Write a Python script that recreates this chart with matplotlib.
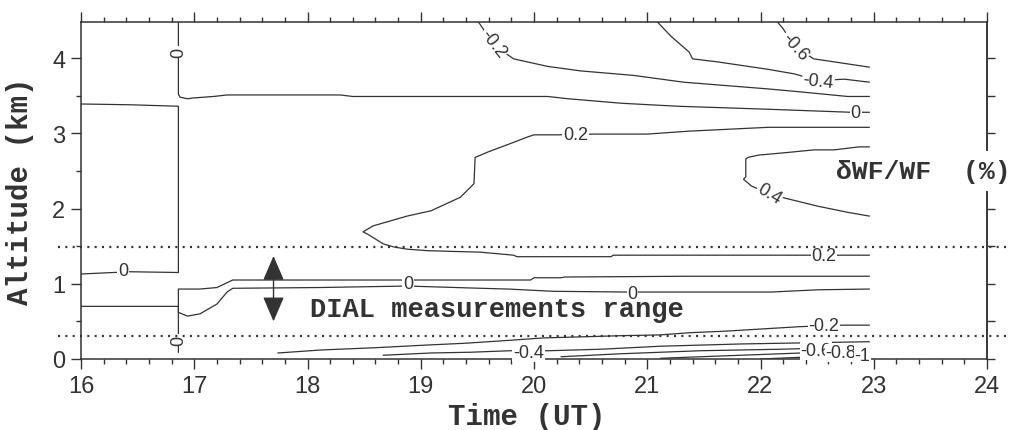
import numpy as np
import matplotlib.pyplot as plt
from matplotlib.ticker import MultipleLocator

# contour lines of dWF/WF (%): time (UT) and altitude (km)
zero_top_t = [16.86, 16.86, 16.875, 16.94, 16.99, 17.17, 17.29, 18.29, 18.40, 20.12, 20.30, 20.77, 21.27, 22.07, 22.80, 22.96]
zero_top_z = [4.48, 3.52, 3.48, 3.46, 3.47, 3.49, 3.51, 3.51, 3.49, 3.49, 3.46, 3.40, 3.36, 3.32, 3.28, 3.28]

zero_left_t = [16.0, 16.43, 16.86, 16.86, 16.43, 16.0]
zero_left_z = [3.39, 3.38, 3.36, 1.15, 1.16, 1.13]

zero_up_t = [16.86, 16.86, 17.05, 17.20, 17.34, 18.29, 19.53, 19.97, 20.00, 20.24, 20.27, 21.36, 22.96]
zero_up_z = [0.09, 0.93, 0.93, 0.95, 1.05, 1.05, 1.05, 1.05, 1.08, 1.08, 1.09, 1.10, 1.10]

zero_low_t = [16.0, 16.86, 16.86, 16.94, 17.05, 17.20, 17.29, 17.34, 18.10, 18.88, 19.53, 19.77, 20.17, 20.83, 21.00, 22.09, 22.51, 22.96]
zero_low_z = [0.70, 0.70, 0.62, 0.57, 0.60, 0.73, 0.89, 0.94, 0.95, 0.97, 0.94, 0.93, 0.90, 0.89, 0.89, 0.89, 0.92, 0.93]

p02_t = [22.96, 22.80, 22.07, 21.38, 21.00, 20.53, 20.22, 20.00, 19.94, 19.82, 19.59, 19.48, 19.47, 19.35, 19.09, 18.88,
         18.58, 18.49, 18.53, 18.67, 18.76, 18.88, 19.06, 19.53, 19.82, 19.85, 20.68, 20.70, 22.42, 22.71, 22.96]
p02_z = [3.08, 3.08, 3.08, 3.03, 2.99, 2.99, 2.98, 2.98, 2.95, 2.88, 2.75, 2.68, 2.33, 2.15, 1.97, 1.90,
         1.77, 1.69, 1.66, 1.53, 1.49, 1.46, 1.44, 1.42, 1.38, 1.36, 1.36, 1.38, 1.38, 1.38, 1.38]

p04_t = [22.96, 22.87, 22.65, 22.47, 22.27, 21.98, 21.89, 21.87, 21.87, 21.85, 21.92, 22.08, 22.24, 22.51, 22.77, 22.96]
p04_z = [2.82, 2.82, 2.78, 2.78, 2.75, 2.71, 2.68, 2.66, 2.42, 2.39, 2.30, 2.19, 2.13, 2.03, 1.95, 1.90]

m02_top_t = [19.51, 19.55, 19.64, 19.82, 20.12, 20.41, 20.88, 21.32, 22.07, 22.36, 22.77, 22.96]
m02_top_z = [4.48, 4.39, 4.18, 3.99, 3.89, 3.83, 3.77, 3.68, 3.59, 3.55, 3.49, 3.49]

m04_top_t = [21.09, 21.21, 21.37, 21.40, 21.62, 22.07, 22.30, 22.51, 22.74, 22.96]
m04_top_z = [4.48, 4.29, 4.08, 3.99, 3.95, 3.85, 3.79, 3.70, 3.72, 3.68]

m06_top_t = [22.15, 22.20, 22.30, 22.47, 22.65, 22.96]
m06_top_z = [4.48, 4.39, 4.15, 3.99, 3.95, 3.88]

m02_bot_t = [17.74, 18.12, 18.60, 18.98, 19.40, 19.80, 20.08, 20.77, 21.11, 21.38, 21.69, 22.35, 22.73, 22.96]
m02_bot_z = [0.08, 0.12, 0.15, 0.18, 0.21, 0.25, 0.28, 0.31, 0.32, 0.35, 0.37, 0.43, 0.45, 0.45]

m04_bot_t = [18.67, 19.09, 19.44, 19.79, 20.13, 20.59, 21.12, 21.83, 22.96]
m04_bot_z = [0.05, 0.08, 0.09, 0.11, 0.11, 0.13, 0.17, 0.20, 0.23]

m06_bot_t = [20.24, 20.77, 21.47, 22.18, 22.96]
m06_bot_z = [0.03, 0.07, 0.11, 0.13, 0.16]

m08_bot_t = [21.12, 21.83, 22.36, 22.96]
m08_bot_z = [0.01, 0.05, 0.08, 0.12]

m10_bot_t = [22.00, 22.62, 22.96]
m10_bot_z = [0.00, 0.04, 0.07]

lines = [(zero_top_t, zero_top_z), (zero_left_t, zero_left_z), (zero_up_t, zero_up_z), (zero_low_t, zero_low_z),
         (p02_t, p02_z), (p04_t, p04_z), (m02_top_t, m02_top_z), (m04_top_t, m04_top_z), (m06_top_t, m06_top_z),
         (m02_bot_t, m02_bot_z), (m04_bot_t, m04_bot_z), (m06_bot_t, m06_bot_z), (m08_bot_t, m08_bot_z),
         (m10_bot_t, m10_bot_z)]

# inline contour labels: text, time, altitude, rotation
clabels = [('0', 16.86, 4.08, 90), ('0', 16.37, 1.17, 0), ('0', 16.86, 0.25, 90),
           ('0', 18.89, 1.00, 0), ('0', 20.87, 0.87, 0), ('0', 22.84, 3.28, 0),
           ('0.2', 20.37, 2.98, 0), ('0.2', 22.56, 1.37, 0), ('0.4', 22.08, 2.20, -31),
           ('-0.2', 19.64, 4.19, -52), ('-0.4', 22.51, 3.69, -6), ('-0.6', 22.30, 4.15, -48),
           ('-0.2', 22.56, 0.44, 0), ('-0.4', 19.95, 0.08, 0), ('-0.6', 22.49, 0.11, 0),
           ('-0.8', 22.71, 0.08, 0), ('-1', 22.90, 0.05, 0)]

dial_limits = [1.49, 0.31]

ink = '#333333'
fig = plt.figure(figsize=(10.2, 4.31), dpi=100)
ax = fig.add_axes([81 / 1020, 1 - 360 / 431, 906 / 1020, 337 / 431])

for t, z in lines:
    ax.plot(t, z, color=ink, lw=0.9, zorder=2)

for s, t, z, r in clabels:
    ax.text(t, z, s, rotation=r, ha='center', va='center', fontsize=13, color=ink,
            family='Liberation Sans', zorder=3, rotation_mode='anchor',
            bbox=dict(boxstyle='square,pad=0.05', fc='white', ec='none'))

for z in dial_limits:
    ax.plot([15.80, 24.17], [z, z], color=ink, lw=1.6, ls=(0, (0.9, 2.4)), clip_on=False, zorder=4)

ax.annotate('', xy=(17.70, 0.50), xytext=(17.70, 1.37),
            arrowprops=dict(arrowstyle='<|-|>,head_length=0.7,head_width=0.3', color=ink, lw=1.0,
                            mutation_scale=22, shrinkA=0, shrinkB=0))
ax.text(18.02, 0.665, 'DIAL measurements range', ha='left', va='center', fontsize=19.5,
        family='Liberation Mono', fontweight='bold', color=ink)

fig.text(22.67, 2.50, 'δWF/WF  (%)', transform=ax.transData, ha='left', va='center', fontsize=19,
         family='Liberation Mono', fontweight='bold', color=ink, zorder=10,
         bbox=dict(boxstyle='square,pad=0.3', fc='white', ec='none'))

ax.set_xlim(16, 24)
ax.set_ylim(0, 4.48)
ax.xaxis.set_major_locator(MultipleLocator(1))
ax.xaxis.set_minor_locator(MultipleLocator(0.2))
ax.yaxis.set_major_locator(MultipleLocator(1))
ax.yaxis.set_minor_locator(MultipleLocator(0.5))
ax.tick_params(which='both', direction='out', top=True, right=False, color=ink, width=1.0)
ax.tick_params(which='major', length=7.2, pad=4, labelsize=17, labelcolor=ink)
ax.tick_params(which='minor', length=3.6)
for lab in ax.get_xticklabels() + ax.get_yticklabels():
    lab.set_family('Liberation Sans')

sec = ax.secondary_yaxis('right')
sec.yaxis.set_major_locator(MultipleLocator(0.5))
sec.tick_params(direction='out', length=6, width=1.0, color=ink, labelright=False)
sec.spines['right'].set_color(ink)
sec.spines['right'].set_linewidth(1.1)

for sp in ax.spines.values():
    sp.set_color(ink)
    sp.set_linewidth(1.1)

ax.set_xlabel('Time (UT)', fontsize=21, family='Liberation Mono', fontweight='bold', color=ink)
ax.set_ylabel('Altitude (km)', fontsize=21, family='Liberation Mono', fontweight='bold', color=ink)
ax.xaxis.set_label_coords(0.492, -0.128)
ax.yaxis.set_label_coords(-0.052, 0.5)

fig.savefig('out.png', dpi=100)
